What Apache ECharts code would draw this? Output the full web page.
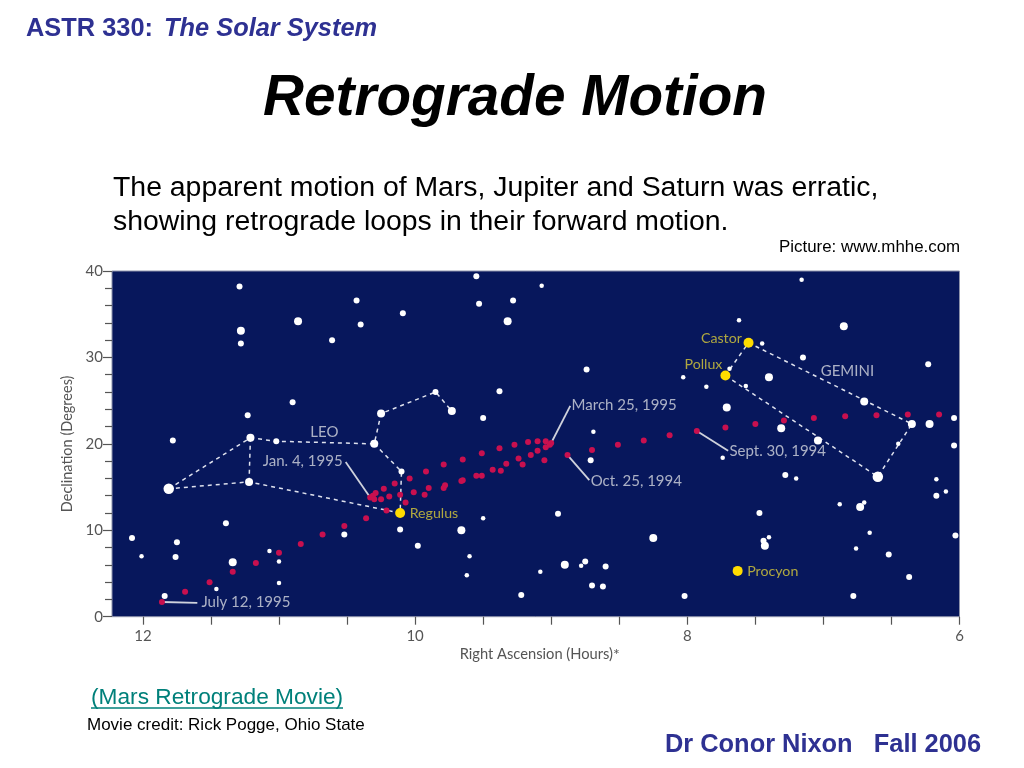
<!DOCTYPE html>
<html><head><meta charset="utf-8">
<style>html,body{margin:0;padding:0;background:#fff}#c{width:1024px;height:768px}</style>
<script src="https://cdn.jsdelivr.net/npm/echarts@6/dist/echarts.min.js"></script>
</head><body><div id="c"></div>
<script>
// Right ascension (hours), declination (degrees)
const starsSmall = [[12.01,7.0],[11.07,7.6],[11.00,6.4],[11.00,3.9],[11.46,3.2],[9.07,38.3],[8.69,21.4],[9.50,11.4],[9.60,7.0],[9.62,4.8],[9.08,5.2],[8.78,5.9],[7.16,39.0],[7.62,34.3],[7.45,31.6],[7.69,28.7],[8.03,27.7],[7.86,26.6],[7.57,26.7],[6.45,20.0],[7.74,18.4],[7.20,16.0],[6.17,15.9],[6.10,14.5],[6.88,13.0],[6.70,13.2],[6.66,9.7],[7.40,9.2],[6.76,7.9]];
const starsMedium = [[11.29,38.2],[10.43,36.6],[10.40,33.8],[11.28,31.6],[10.61,32.0],[10.90,24.8],[11.23,23.3],[11.78,20.4],[11.02,20.3],[11.39,10.8],[10.52,9.5],[12.08,9.1],[11.75,8.6],[11.76,6.9],[11.84,2.4],[9.55,39.4],[9.53,36.2],[9.28,36.6],[10.09,35.1],[8.74,28.6],[9.38,26.1],[9.85,26.0],[9.50,23.0],[10.10,16.8],[8.71,18.1],[8.95,11.9],[10.11,10.1],[9.98,8.2],[8.75,6.4],[8.60,5.8],[8.70,3.6],[8.62,3.5],[9.22,2.5],[7.15,30.0],[6.23,29.2],[6.04,23.0],[6.04,19.8],[7.28,16.4],[6.17,14.0],[7.47,12.0],[6.03,9.4],[7.44,8.8],[6.52,7.2],[6.37,4.6],[8.02,2.4],[6.78,2.4]];
const starsLarge = [[11.28,33.1],[10.86,34.2],[11.34,6.3],[9.32,34.2],[10.25,23.5],[8.90,6.0],[7.40,27.7],[7.71,24.2],[7.31,21.8],[6.22,22.3],[6.35,22.3],[6.70,24.9],[7.04,20.4],[6.73,12.7],[7.43,8.2],[6.85,33.6],[8.25,9.1],[9.66,10.0],[9.73,23.8],[11.22,15.6],[10.30,20.0],[11.21,20.7]];
const starsHuge = [[11.81,14.8],[6.60,16.2]];
const namedBright = [[10.11,12.0],[7.55,31.7],[7.72,27.9],[7.63,5.3]];
const marsPath = [[11.86,1.7],[11.69,2.9],[11.51,4.0],[11.34,5.2],[11.17,6.2],[11.00,7.4],[10.84,8.4],[10.68,9.5],[10.52,10.5],[10.36,11.4],[10.21,12.3],[10.07,13.2],[9.93,14.1],[9.79,14.9],[9.78,15.2],[9.66,15.7],[9.65,15.8],[9.55,16.3],[9.51,16.3],[9.43,17.0],[9.37,16.9],[9.33,17.7],[9.21,17.6],[9.24,18.3],[9.15,18.7],[9.05,18.1],[9.10,19.2],[9.04,19.6],[9.01,19.9],[9.00,20.1],[9.04,20.3],[9.10,20.3],[9.17,20.2],[9.27,19.9],[9.38,19.5],[9.51,18.9],[9.65,18.2],[9.79,17.6],[9.92,16.8],[10.04,16.0],[10.15,15.4],[10.23,14.8],[10.29,14.3],[10.33,13.8],[10.31,14.0],[10.30,13.6],[10.25,13.6],[10.19,13.9],[10.11,14.1],[10.01,14.4],[9.90,14.9],[8.88,18.7],[8.70,19.3],[8.51,19.9],[8.32,20.4],[8.13,21.0],[7.93,21.5],[7.72,21.9],[7.50,22.3],[7.29,22.7],[7.07,23.0],[6.84,23.2],[6.61,23.3],[6.38,23.4],[6.15,23.4]];
const leoLines = [
  [[11.81,14.8],[11.21,20.7],[11.02,20.3],[10.30,20.0],[10.25,23.5],[9.85,26.0],[9.73,23.8]],
  [[10.30,20.0],[10.10,16.8],[10.11,12.0],[11.22,15.6],[11.81,14.8]],
  [[11.21,20.7],[11.22,15.6]]
];
const geminiLines = [[[7.72,27.9],[7.55,31.7],[6.35,22.3],[6.60,16.2],[7.72,27.9]]];
const leaderLines = [
  [[11.86,1.7],[11.60,1.6]],
  [[10.51,17.9],[10.33,13.8]],
  [[8.86,24.4],[9.00,20.1]],
  [[8.88,18.7],[8.72,15.8]],
  [[7.93,21.5],[7.70,19.2]]
];
const whiteLabels = [["LEO",10.77,21.4],["Jan. 4, 1995",11.12,18.0],["July 12, 1995",11.57,1.7],["March 25, 1995",8.85,24.5],["Oct. 25, 1994",8.71,15.7],["Sept. 30, 1994",7.69,19.2],["GEMINI",7.02,28.4]];
const yellowLabels = [["Regulus",10.04,11.9],["Castor",7.90,32.2],["Pollux",8.02,29.2],["Procyon",7.56,5.2]];
const xTickValues = [6,6.5,7,7.5,8,8.5,9,9.5,10,10.5,11,11.5,12];
const xLabelValues = [6,8,10,12];
const xName = "Right Ascension (Hours)";
const yName = "Declination (Degrees)";
const courseLeft = "ASTR 330:";
const courseRight = "The Solar System";
const pageTitle = "Retrograde Motion";
const bodyLines = ["The apparent motion of Mars, Jupiter and Saturn was erratic,","showing retrograde loops in their forward motion."];
const pictureCredit = "Picture: www.mhhe.com";
const movieLink = "(Mars Retrograde Movie)";
const movieCredit = "Movie credit: Rick Pogge, Ohio State";
const footer = "Dr Conor Nixon   Fall 2006";

const NAVY = '#2e3192', FIG = '"Lato","Noto Sans",sans-serif', SANS = '"Liberation Sans",Arial,sans-serif';
const chart = echarts.init(document.getElementById('c'), null, {renderer:'canvas', width:1024, height:768});

const stars = (data, size) => ({type:'scatter', data, symbolSize:size, z:4, silent:true, itemStyle:{color:'#ffffff', opacity:1}});
const poly = (data, style, z) => ({type:'line', data, symbol:'none', z, silent:true, lineStyle:style});
const labels = (arr, color, size) => ({type:'scatter', z:6, silent:true, symbolSize:0,
  data: arr.map(a => ({value:[a[1],a[2]], label:{formatter:a[0]}})),
  label:{show:true, position:'right', distance:0, color, fontFamily:FIG, fontSize:size}});
const dash = {color:'#dfe2ee', width:1.5, type:[4,4]};
const lead = {color:'#cfd2dc', width:1.8, type:'solid'};

const text = (x,y,t,font,fill,align) => ({type:'text', x, y, silent:true,
  style:{text:t, font, fill, textAlign:align||'left', textVerticalAlign:'middle'}});

chart.setOption({
  animation:false, backgroundColor:'#fff',
  grid:{show:true, left:112, right:64.5, top:271, bottom:151.3, backgroundColor:'#07175c', borderColor:'#8d92aa', borderWidth:1},
  xAxis:{type:'value', inverse:true, min:6, max:12.227, interval:0.5, splitLine:{show:false},
    axisLine:{show:false},
    axisTick:{show:true, length:8, lineStyle:{color:'#555', width:1.2}, customValues:xTickValues},
    axisLabel:{color:'#555', fontFamily:FIG, fontSize:15, margin:12, customValues:xLabelValues},
    name:'{a|'+xName+'}{b|*}', nameLocation:'middle', nameGap:30,
    nameTextStyle:{rich:{a:{color:'#555', fontFamily:FIG, fontSize:14.7, padding:[0,0,0,8]}, b:{color:'#555', fontFamily:FIG, fontSize:16, verticalAlign:'top'}}}},
  yAxis:{type:'value', min:0, max:40, interval:10, splitLine:{show:false},
    axisLine:{show:false},
    axisTick:{show:true, length:9, lineStyle:{color:'#555', width:1.2}},
    minorTick:{show:true, splitNumber:5, length:7, lineStyle:{color:'#555', width:1.2}},
    minorSplitLine:{show:false},
    axisLabel:{color:'#555', fontFamily:FIG, fontSize:15, margin:9},
    name:yName, nameLocation:'middle', nameGap:34, nameRotate:90,
    nameTextStyle:{color:'#555', fontFamily:FIG, fontSize:14.5}},
  series:[
    ...leoLines.concat(geminiLines).map(l => poly(l, dash, 2)),
    ...leaderLines.map(l => poly(l, lead, 3)),
    stars(starsSmall,4.5), stars(starsMedium,6), stars(starsLarge,8), stars(starsHuge,10.5),
    {type:'scatter', data:marsPath, symbolSize:6, z:5, silent:true, itemStyle:{color:'#c8104f', opacity:1}},
    {type:'scatter', data:namedBright, symbolSize:10, z:5, silent:true, itemStyle:{color:'#ffdc00', opacity:1}},
    labels(whiteLabels,'#d6d8e0',15), labels(yellowLabels,'#d9cc3a',14.2)
  ],
  graphic:[
    text(26,29,courseLeft,'bold 25.4px '+SANS,NAVY),
    text(164,29,courseRight,'italic bold 25.4px '+SANS,NAVY),
    text(515,99,pageTitle,'italic bold 56.7px '+SANS,'#000','center'),
    text(113,188,bodyLines[0],'28.4px '+SANS,'#000'),
    text(113,222,bodyLines[1],'28.4px '+SANS,'#000'),
    text(779,247,pictureCredit,'16.9px '+SANS,'#000'),
    text(91,698,movieLink,'22.7px '+SANS,'#00807a'),
    {type:'line', silent:true, shape:{x1:91,y1:708,x2:343,y2:708}, style:{stroke:'#00807a', lineWidth:1.3}},
    text(87,725,movieCredit,'17px '+SANS,'#000'),
    text(665,745,footer,'bold 25.4px '+SANS,NAVY)
  ]
});
</script></body></html>
